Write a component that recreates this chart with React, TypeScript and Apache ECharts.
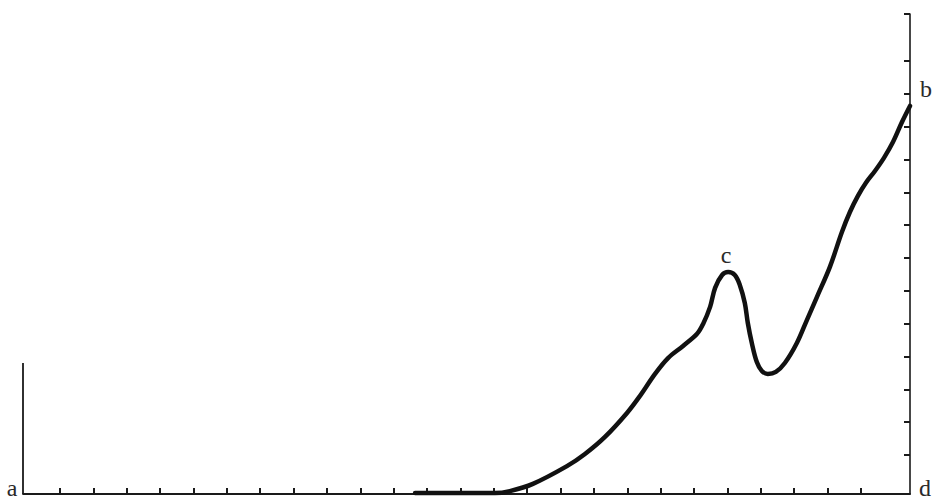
import React, { useEffect, useRef } from "react";
import * as echarts from "echarts";

// Curve samples (x in tick units along the bottom axis, y in tick units on the right axis)
const curveX = [10.64, 13.03, 13.48, 14.17, 15.19, 15.73, 16.33, 16.99, 17.38, 17.83, 18.22, 18.67, 19.09, 19.27, 19.48, 19.63, 19.84, 20.02, 20.22, 20.37, 20.52, 20.61, 20.73, 20.88, 21.03, 21.21, 21.45, 21.72, 22.08, 22.38, 22.68, 23.07, 23.43, 23.67, 23.91, 24.15, 24.42, 24.69, 24.96, 25.23, 25.47];
const curveY = [-1.16, -1.16, -1.1, -0.88, -0.34, 0.03, 0.55, 1.28, 1.8, 2.47, 2.95, 3.32, 3.69, 3.99, 4.51, 5.09, 5.48, 5.57, 5.48, 5.18, 4.63, 4.02, 3.41, 2.83, 2.56, 2.47, 2.53, 2.8, 3.41, 4.11, 4.81, 5.73, 6.79, 7.4, 7.89, 8.29, 8.65, 9.05, 9.53, 10.14, 10.63];

const xTicks = Array.from({ length: 25 }, (_, i) => i);
const yTicks = [0, 1, 2, 3, 4, 5, 6, 7, 8, 9, 10, 11, 12, 13.43];
const xMin = -1.109;
const xMax = 25.47;
const yMin = -1.188;
const yMax = 13.43;

const cornerLabels = ["a", "b", "c", "d"];

export default function App() {
  const ref = useRef<HTMLDivElement>(null);
  useEffect(() => {
    if (!ref.current) return;
    const chart = echarts.init(ref.current, null, { renderer: "svg" });
    const textBase = { fontFamily: '"Liberation Serif", "Times New Roman", serif', fontSize: 24, fill: "#2a2a2a", textAlign: "center" };
    const axisColor = "#1a1a1a";
    chart.setOption({
      animation: false,
      backgroundColor: "#ffffff",
      grid: { left: 23, right: 23, top: 14, bottom: 7 },
      xAxis: {
        type: "value",
        min: xMin,
        max: xMax,
        axisLine: { show: true, onZero: false, lineStyle: { color: axisColor, width: 1.8 } },
        axisTick: { show: true, inside: true, length: 6, customValues: xTicks, lineStyle: { color: axisColor, width: 2 } },
        axisLabel: { show: false },
        splitLine: { show: false },
      },
      yAxis: {
        type: "value",
        position: "right",
        min: yMin,
        max: yMax,
        axisLine: { show: true, onZero: false, lineStyle: { color: axisColor, width: 1.6 } },
        axisTick: { show: true, inside: true, length: 6, customValues: yTicks, lineStyle: { color: axisColor, width: 2 } },
        axisLabel: { show: false },
        splitLine: { show: false },
      },
      series: [
        {
          type: "line",
          data: curveX.map((x, i) => [x, curveY[i]]),
          symbol: "none",
          smooth: 0.35,
          clip: false,
          lineStyle: { color: "#111111", width: 4.5, cap: "round", join: "round" },
        },
      ],
      graphic: [
        { type: "line", shape: { x1: 23, y1: 363, x2: 23, y2: 494 }, style: { stroke: axisColor, lineWidth: 1.8 } },
        { type: "text", style: { ...textBase, x: 12, y: 488, text: cornerLabels[0], textVerticalAlign: "middle" } },
        { type: "text", style: { ...textBase, x: 926, y: 89, text: cornerLabels[1], textVerticalAlign: "middle" } },
        { type: "text", style: { ...textBase, x: 726, y: 255, text: cornerLabels[2], textVerticalAlign: "middle" } },
        { type: "text", style: { ...textBase, x: 925, y: 488, text: cornerLabels[3], textVerticalAlign: "middle" } },
      ],
    });
    return () => chart.dispose();
  }, []);
  return <div ref={ref} style={{ position: "fixed", left: 0, top: 0, width: 933, height: 501 }} />;
}
